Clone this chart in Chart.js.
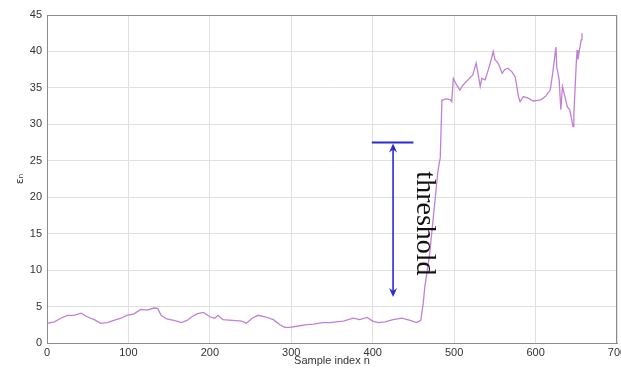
<!DOCTYPE html>
<html>
<head>
<meta charset="utf-8">
<script src="https://cdn.jsdelivr.net/npm/chart.js@4.4.0/dist/chart.umd.min.js"></script>
<style>
  html, body { margin: 0; padding: 0; background: #fff; }
  #wrap { width: 621px; height: 371px; }
</style>
</head>
<body>
<div id="wrap"><canvas id="epsChart"></canvas></div>
<script>
// sample index n and the measured value at that index
var sampleIndex = [0, 9, 17, 25, 33, 42, 49, 58, 66, 74, 82, 91, 98, 107, 115, 123, 131, 136, 140, 147,
    156, 165, 172, 178, 184, 192, 200, 206, 210, 216, 228, 239, 245, 252, 259, 268, 278, 286, 292, 298,
    307, 317, 327, 339, 348, 355, 364, 376, 384, 393, 400, 407, 415, 425, 436, 446, 454, 459, 462, 464,
    470, 476, 480, 483, 485, 490, 495, 497, 499, 503, 507, 511, 517, 523, 527, 529, 532, 534, 538, 542,
    546, 548, 550, 554, 559, 562, 566, 571, 575, 579, 581, 585, 591, 597, 603, 607, 612, 618, 621, 625,
    626, 629, 631, 633, 636, 639, 642, 646, 647, 650, 651, 652, 656, 657];
var epsilon = [2.7, 2.9, 3.4, 3.8, 3.8, 4.1, 3.6, 3.2, 2.7, 2.8, 3.1, 3.4, 3.8, 4.0, 4.6, 4.5, 4.8, 4.75, 3.8, 3.3,
    3.1, 2.8, 3.1, 3.6, 4.0, 4.2, 3.6, 3.4, 3.8, 3.2, 3.1, 3.0, 2.7, 3.4, 3.8, 3.6, 3.2, 2.5, 2.15, 2.15,
    2.3, 2.5, 2.6, 2.8, 2.8, 2.9, 3.0, 3.4, 3.2, 3.5, 3.0, 2.8, 2.9, 3.2, 3.4, 3.1, 2.8, 3.1, 5.4, 7.7,
    12.3, 19, 23.5, 25.5, 33.3, 33.5, 33.4, 33.1, 36.3, 35.4, 34.7, 35.4, 36.1, 36.8, 38.4, 37.2, 35.2, 36.3, 36.1, 37.5,
    39.1, 40.0, 38.9, 38.4, 37.0, 37.5, 37.7, 37.2, 36.5, 33.8, 33.1, 33.8, 33.6, 33.2, 33.3, 33.4, 33.8, 34.7, 37.0, 40.6,
    37.9, 36.1, 32.0, 35.2, 33.8, 32.4, 32.0, 29.7, 31.4, 38.4, 40.2, 38.9, 41.6, 42.5];

var xTicks = [0, 100, 200, 300, 400, 500, 600, 700];
var yTicks = [0, 5, 10, 15, 20, 25, 30, 35, 40, 45];

// threshold annotation, in data units
var thresholdLevel = 27.5;
var thresholdBarFrom = 399;
var thresholdBarTo = 450;
var arrowAt = 425;
var arrowBottom = 6.3;
var thresholdText = 'threshold';
var thresholdTextAt = [463, 16.4];

var points = sampleIndex.map(function (n, i) { return { x: n, y: epsilon[i] }; });

var boxPlugin = {
    id: 'box',
    afterDraw: function (chart) {
        var a = chart.chartArea, ctx = chart.ctx;
        ctx.save();
        ctx.strokeStyle = '#8c8c8c';
        ctx.lineWidth = 1;
        ctx.strokeRect(a.left + 0.5, a.top + 0.5, a.right - a.left - 1, a.bottom - a.top);
        ctx.restore();
    }
};

var thresholdPlugin = {
    id: 'threshold',
    afterDatasetsDraw: function (chart) {
        var xs = chart.scales.x, ys = chart.scales.y, ctx = chart.ctx;
        var top = ys.getPixelForValue(thresholdLevel);
        var bot = ys.getPixelForValue(arrowBottom);
        var ax = xs.getPixelForValue(arrowAt);
        ctx.save();
        ctx.strokeStyle = '#2a2ad2';
        ctx.fillStyle = '#2a2ad2';
        ctx.lineWidth = 2;
        ctx.beginPath();
        ctx.moveTo(xs.getPixelForValue(thresholdBarFrom), top);
        ctx.lineTo(xs.getPixelForValue(thresholdBarTo), top);
        ctx.stroke();
        ctx.lineWidth = 1.6;
        ctx.beginPath();
        ctx.moveTo(ax, top + 6);
        ctx.lineTo(ax, bot - 6);
        ctx.stroke();
        // heads
        ctx.beginPath();
        ctx.moveTo(ax, top + 1);
        ctx.lineTo(ax - 4, top + 10);
        ctx.lineTo(ax, top + 7);
        ctx.lineTo(ax + 4, top + 10);
        ctx.closePath();
        ctx.fill();
        ctx.beginPath();
        ctx.moveTo(ax, bot);
        ctx.lineTo(ax - 4, bot - 9);
        ctx.lineTo(ax, bot - 6);
        ctx.lineTo(ax + 4, bot - 9);
        ctx.closePath();
        ctx.fill();
        // label
        ctx.translate(xs.getPixelForValue(thresholdTextAt[0]), ys.getPixelForValue(thresholdTextAt[1]));
        ctx.rotate(Math.PI / 2);
        ctx.fillStyle = '#111';
        ctx.font = '28px "Liberation Serif", "DejaVu Serif", serif';
        ctx.textAlign = 'center';
        ctx.textBaseline = 'middle';
        ctx.fillText(thresholdText, 0, 0);
        ctx.restore();
    }
};

var tickFont = { family: 'Liberation Sans, Arial, sans-serif', size: 11 };

new Chart(document.getElementById('epsChart'), {
    type: 'line',
    data: {
        datasets: [{
            data: points,
            borderColor: '#c27fd6',
            borderWidth: 1.3,
            pointRadius: 0,
            tension: 0,
            fill: false
        }]
    },
    options: {
        responsive: true,
        maintainAspectRatio: false,
        animation: false,
        layout: { padding: { top: 15, right: 4, left: 0, bottom: 0 } },
        plugins: { legend: { display: false }, tooltip: { enabled: false } },
        scales: {
            x: {
                type: 'linear',
                min: 0,
                max: 700,
                afterBuildTicks: function (s) { s.ticks = xTicks.map(function (v) { return { value: v }; }); },
                ticks: { font: tickFont, color: '#333', padding: 3, maxRotation: 0 },
                grid: { color: '#e0e0e0', drawTicks: false },
                border: { color: '#8c8c8c' },
                title: { display: true, text: 'Sample index n', font: { family: 'Liberation Sans, Arial, sans-serif', size: 11 }, color: '#333', padding: { top: 0, bottom: 3 } },
                afterFit: function (s) { s.height = 28; s.paddingLeft = 0; s.paddingRight = 0; }
            },
            y: {
                min: 0,
                max: 45,
                afterBuildTicks: function (s) { s.ticks = yTicks.map(function (v) { return { value: v }; }); },
                ticks: { font: tickFont, color: '#333', padding: 5 },
                grid: { color: '#e0e0e0', drawTicks: false },
                border: { color: '#8c8c8c' },
                title: { display: true, text: 'εₙ', font: { family: 'DejaVu Sans, sans-serif', size: 11 }, color: '#333', padding: { top: 14, bottom: 0 } },
                afterFit: function (s) { s.width = 47; }
            }
        }
    },
    plugins: [boxPlugin, thresholdPlugin]
});
</script>
</body>
</html>
